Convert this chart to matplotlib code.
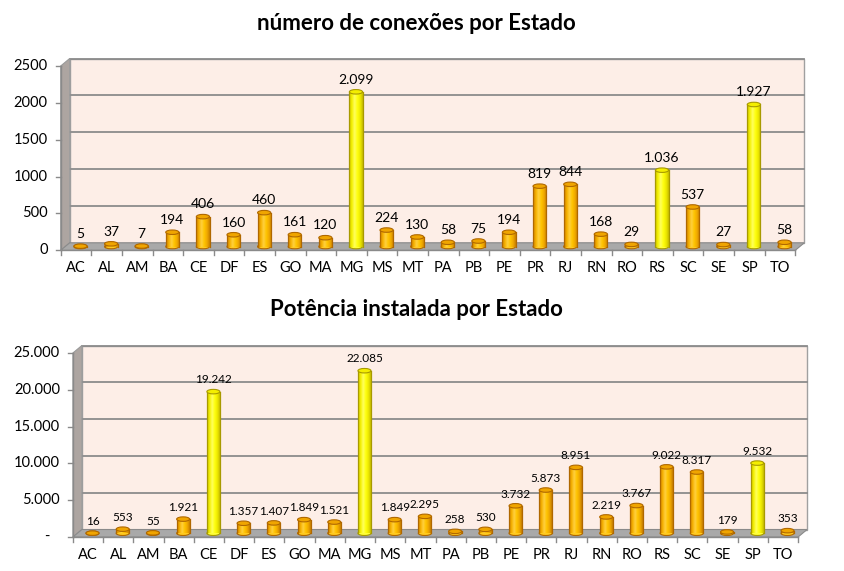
import matplotlib
matplotlib.use('Agg')
import matplotlib.pyplot as plt
import numpy as np
from matplotlib.transforms import ScaledTranslation, blended_transform_factory
from matplotlib.patches import Rectangle, Ellipse, Polygon
from matplotlib.colors import LinearSegmentedColormap

plt.rcParams['font.family'] = ['Lato', 'DejaVu Sans']

# ---------------- data ----------------
states = ['AC', 'AL', 'AM', 'BA', 'CE', 'DF', 'ES', 'GO', 'MA', 'MG', 'MS', 'MT',
          'PA', 'PB', 'PE', 'PR', 'RJ', 'RN', 'RO', 'RS', 'SC', 'SE', 'SP', 'TO']
conexoes = [5, 37, 7, 194, 406, 160, 460, 161, 120, 2099, 224, 130,
            58, 75, 194, 819, 844, 168, 29, 1036, 537, 27, 1927, 58]
potencia = [16, 553, 55, 1921, 19242, 1357, 1407, 1849, 1521, 22085, 1849, 2295,
            258, 530, 3732, 5873, 8951, 2219, 3767, 9022, 8317, 179, 9532, 353]
destaque_conexoes = ['MG', 'RS', 'SP']
destaque_potencia = ['CE', 'MG', 'SP']
title_top = 'número de conexões por Estado'
title_bottom = 'Potência instalada por Estado'

DPI = 100
FW, FH = 844, 571
fig = plt.figure(figsize=(FW / DPI, FH / DPI), dpi=DPI)

orange_cm = LinearSegmentedColormap.from_list(
    'o', ['#D08600', '#F5B000', '#FFD040', '#FFC400', '#F0A800', '#C88000'])
yellow_cm = LinearSegmentedColormap.from_list(
    'y', ['#D0C800', '#F4F000', '#FFFF60', '#FFFF10', '#EEEA00', '#C8BE00'])


def fmt_br(v):
    return f"{v:,}".replace(',', '.')


def draw_panel(rect, values, ymax, ystep, highlight, tick_fmt, label_fs, tick_fs):
    ax = fig.add_axes(rect)
    n = len(states)
    x = np.arange(n)
    ax.axis('off')
    W = rect[2] * FW
    H = rect[3] * FH
    wdx, wdy = 9.0, 7.5
    dxa, dya = wdx / W, wdy / H
    back = ax.transData + ScaledTranslation(wdx / DPI, wdy / DPI, fig.dpi_scale_trans)
    mid = ax.transData + ScaledTranslation(wdx / 2 / DPI, wdy / 2 / DPI, fig.dpi_scale_trans)
    bt = blended_transform_factory(ax.transData, ax.transAxes)
    bt_y = blended_transform_factory(ax.transAxes, ax.transData)

    # back wall
    ax.add_patch(Rectangle((-0.5, 0), n, ymax, transform=back, facecolor='#FDEEE7',
                           edgecolor='#A0A0A0', lw=1, zorder=0, clip_on=False))
    ticks = np.arange(0, ymax + 1, ystep)
    for t in ticks[1:]:
        ax.plot([-0.5, n - 0.5], [t, t], transform=back, color='#8C8C8C', lw=1.3,
                zorder=1, clip_on=False)
    # left wall
    ax.add_patch(Polygon([(0, 0), (0, 1), (dxa, 1 + dya), (dxa, dya)], closed=True,
                         transform=ax.transAxes, facecolor='#ADA5A1', edgecolor='#9A9A9A',
                         lw=0.8, zorder=1, clip_on=False))
    # floor
    ax.add_patch(Polygon([(0, 0), (1, 0), (1 + dxa, dya), (dxa, dya)], closed=True,
                         transform=ax.transAxes, facecolor='#A9A9A9', edgecolor='#8A8A8A',
                         lw=0.8, zorder=1, clip_on=False))

    # front axes lines and ticks
    ax.plot([-0.5, n - 0.5], [0, 0], color='#8A8A8A', lw=1, zorder=2, clip_on=False)
    ax.plot([-0.5, -0.5], [0, ymax], color='#8A8A8A', lw=1, zorder=2, clip_on=False)
    for b in np.arange(n + 1) - 0.5:
        ax.plot([b, b], [0, -5 / H], transform=bt, color='#8A8A8A', lw=1, clip_on=False)
    for t in ticks:
        ax.plot([-5 / W, 0], [t, t], transform=bt_y, color='#8A8A8A', lw=1, clip_on=False)
        lab = tick_fmt(t)
        extra = 10 if lab == '-' else 0
        ax.annotate(lab, (0, t), xycoords=bt_y, xytext=(-(13 + extra) * 0.72, 0),
                    textcoords='offset points', ha='right', va='center', fontsize=tick_fs)

    bw = 0.43
    ell_h = 4.5 * ymax / H
    grad = np.linspace(0, 1, 64).reshape(1, -1)
    for xi, v, st in zip(x, values, states):
        hl = st in highlight
        cm = yellow_cm if hl else orange_cm
        edge = '#A89A00' if hl else '#B06800'
        topc = '#F4EE00' if hl else '#F0A500'
        ax.add_patch(Ellipse((xi, 0), bw, ell_h, transform=mid, facecolor=cm(0.5),
                             edgecolor=edge, lw=0.8, zorder=2.9, clip_on=False))
        im = ax.imshow(grad, cmap=cm, extent=[xi - bw / 2, xi + bw / 2, 0, v], aspect='auto',
                       transform=mid, zorder=3, interpolation='bilinear')
        im.set_clip_on(False)
        ax.plot([xi - bw / 2, xi - bw / 2], [0, v], transform=mid, color=edge, lw=0.9,
                zorder=4, clip_on=False)
        ax.plot([xi + bw / 2, xi + bw / 2], [0, v], transform=mid, color=edge, lw=0.9,
                zorder=4, clip_on=False)
        ax.add_patch(Ellipse((xi, v), bw, ell_h, transform=mid, facecolor=topc,
                             edgecolor=edge, lw=0.8, zorder=5, clip_on=False))
        ax.annotate(fmt_br(v), (xi, v), xycoords=mid, xytext=(0, 4.5),
                    textcoords='offset points', ha='center', va='bottom', fontsize=label_fs)
        ax.annotate(st, (xi, 0), xycoords='data', xytext=(0, -13),
                    textcoords='offset points', ha='center', va='center', fontsize=tick_fs)

    ax.set_xlim(-0.5, n - 0.5)
    ax.set_ylim(0, ymax)
    return ax


# top panel
draw_panel([60.7 / FW, 1 - 250.3 / FH, (795.3 - 60.7) / FW, 184.3 / FH],
           conexoes, 2500, 500, destaque_conexoes,
           lambda t: f"{int(t)}", 10, 10.5)
# bottom panel
draw_panel([72.9 / FW, 1 - 537 / FH, (798.1 - 72.9) / FW, 184 / FH],
           potencia, 25000, 5000, destaque_potencia,
           lambda t: '-' if t == 0 else fmt_br(int(t)), 8.5, 10.5)

fig.text(416 / FW, 1 - 24 / FH, title_top, ha='center', va='center',
         fontsize=16, fontweight='bold')
fig.text(416 / FW, 1 - 310 / FH, title_bottom, ha='center', va='center',
         fontsize=16, fontweight='bold')

fig.savefig('out.png', dpi=DPI, facecolor='white')
